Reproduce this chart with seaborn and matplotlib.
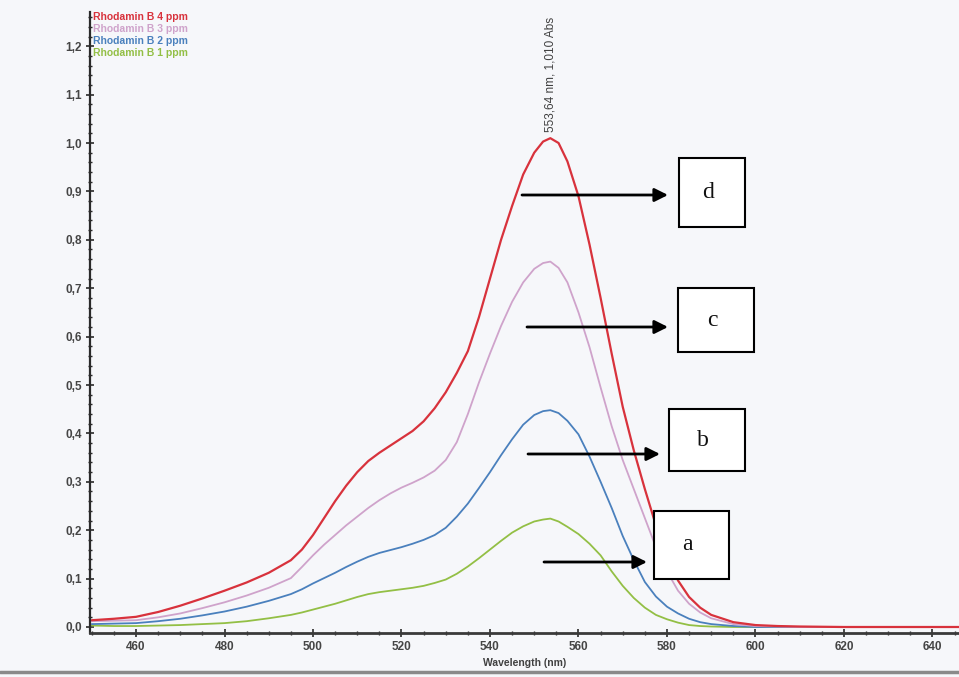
import numpy as np
import pandas as pd
import matplotlib
matplotlib.use("Agg")
import matplotlib.pyplot as plt
from matplotlib.patches import Rectangle
from matplotlib.ticker import MultipleLocator
import seaborn as sns

# ---------------- data ----------------
wavelength = [450, 455, 460, 465, 470, 475, 480, 485, 490, 495,
              497.5, 500, 502.5, 505, 507.5, 510, 512.5, 515, 517.5, 520,
              522.5, 525, 527.5, 530, 532.5, 535, 537.5, 540, 542.5, 545,
              547.5, 550, 552, 553.64, 555.5, 557.5, 560, 562.5, 565, 567.5,
              570, 572.5, 575, 577.5, 580, 582.5, 585, 587.5, 590, 595,
              600, 605, 610, 620, 630, 640, 646]

abs_4ppm = [0.014, 0.017, 0.021, 0.031, 0.044, 0.059, 0.075, 0.092, 0.112, 0.138,
            0.160, 0.190, 0.225, 0.260, 0.292, 0.320, 0.343, 0.360, 0.375, 0.390,
            0.405, 0.425, 0.452, 0.485, 0.525, 0.570, 0.640, 0.720, 0.800, 0.870,
            0.935, 0.980, 1.003, 1.010, 1.000, 0.962, 0.890, 0.790, 0.680, 0.565,
            0.455, 0.365, 0.285, 0.210, 0.145, 0.096, 0.062, 0.040, 0.025, 0.010,
            0.004, 0.002, 0.001, 0.000, 0.000, 0.000, 0.000]

abs_3ppm = [0.012, 0.013, 0.014, 0.020, 0.028, 0.039, 0.051, 0.065, 0.081, 0.101,
            0.124, 0.148, 0.170, 0.190, 0.210, 0.228, 0.246, 0.262, 0.276, 0.288,
            0.298, 0.309, 0.323, 0.345, 0.382, 0.440, 0.505, 0.565, 0.622, 0.672,
            0.712, 0.740, 0.752, 0.755, 0.742, 0.712, 0.650, 0.578, 0.495, 0.415,
            0.345, 0.285, 0.225, 0.165, 0.115, 0.075, 0.048, 0.030, 0.018, 0.006,
            0.002, 0.001, 0.000, 0.000, 0.000, 0.000, 0.000]

abs_2ppm = [0.006, 0.007, 0.008, 0.012, 0.017, 0.024, 0.032, 0.042, 0.054, 0.068,
            0.078, 0.090, 0.101, 0.112, 0.124, 0.135, 0.145, 0.153, 0.159, 0.165,
            0.172, 0.180, 0.190, 0.205, 0.228, 0.255, 0.287, 0.320, 0.355, 0.388,
            0.418, 0.438, 0.446, 0.448, 0.442, 0.426, 0.398, 0.352, 0.300, 0.246,
            0.188, 0.138, 0.093, 0.063, 0.042, 0.028, 0.017, 0.010, 0.006, 0.002,
            0.000, 0.000, 0.000, 0.000, 0.000, 0.000, 0.000]

abs_1ppm = [0.003, 0.002, 0.002, 0.003, 0.004, 0.006, 0.008, 0.012, 0.018, 0.025,
            0.030, 0.036, 0.042, 0.048, 0.055, 0.062, 0.068, 0.072, 0.075, 0.078,
            0.081, 0.085, 0.091, 0.098, 0.110, 0.125, 0.142, 0.160, 0.178, 0.195,
            0.208, 0.218, 0.222, 0.224, 0.218, 0.207, 0.192, 0.172, 0.148, 0.115,
            0.085, 0.060, 0.040, 0.025, 0.016, 0.009, 0.004, 0.002, 0.001, 0.000,
            0.000, 0.000, 0.000, 0.000, 0.000, 0.000, 0.000]

series_names = ["Rhodamin B 4 ppm", "Rhodamin B 3 ppm", "Rhodamin B 2 ppm", "Rhodamin B 1 ppm"]
series_colors = ["#d8323c", "#cfa3cb", "#4a80bd", "#93bf45"]

x_ticks = [460, 480, 500, 520, 540, 560, 580, 600, 620, 640]
x_ticklabels = ["460", "480", "500", "520", "540", "560", "580", "600", "620", "640"]
y_ticks = [0.0, 0.1, 0.2, 0.3, 0.4, 0.5, 0.6, 0.7, 0.8, 0.9, 1.0, 1.1, 1.2]
y_ticklabels = ["0,0", "0,1", "0,2", "0,3", "0,4", "0,5", "0,6", "0,7", "0,8", "0,9", "1,0", "1,1", "1,2"]

peak_label = "553,64 nm, 1,010 Abs"
box_letters = ["d", "c", "b", "a"]

# ---------------- figure ----------------
sns.set_theme(style="ticks")
plt.rcParams["font.family"] = ["Liberation Sans", "DejaVu Sans"]

W, H = 959, 677
BG = "#f6f7fa"
fig = plt.figure(figsize=(W / 100, H / 100), dpi=100, facecolor=BG)

def fx(px):
    return px / W

def fy(py):
    return 1 - py / H

ax = fig.add_axes([fx(90), fy(633), fx(959) - fx(90), fy(12) - fy(633)])
ax.set_facecolor(BG)

frames = []
for name, vals in zip(series_names, [abs_4ppm, abs_3ppm, abs_2ppm, abs_1ppm]):
    frames.append(pd.DataFrame({"Wavelength": wavelength, "Abs": vals, "Series": name}))
df = pd.concat(frames, ignore_index=True)

widths = {series_names[0]: 1.6, series_names[1]: 1.3, series_names[2]: 1.3, series_names[3]: 1.3}
for name, col in list(zip(series_names, series_colors))[::-1]:
    sub = df[df["Series"] == name]
    sns.lineplot(data=sub, x="Wavelength", y="Abs", color=col, lw=widths[name],
                 ax=ax, legend=False, sort=False, solid_joinstyle="round")

ax.set_xlim(449.6, 646.0)
ax.set_ylim(-0.0124, 1.2707)

ax.set_xticks(x_ticks)
ax.set_xticklabels(x_ticklabels)
ax.set_yticks(y_ticks)
ax.set_yticklabels(y_ticklabels)
ax.xaxis.set_minor_locator(MultipleLocator(5))
ax.yaxis.set_minor_locator(MultipleLocator(0.02))

for s in ["top", "right"]:
    ax.spines[s].set_visible(False)
ax.spines["left"].set_color("#2a2a2a")
ax.spines["left"].set_linewidth(1.6)
ax.spines["bottom"].set_color("#3a3a3a")
ax.spines["bottom"].set_linewidth(2.0)

ax.tick_params(axis="both", which="major", direction="inout", length=6, width=1.2,
               colors="#2a2a2a", labelsize=8.5, labelcolor="#454545", pad=3)
ax.tick_params(axis="both", which="minor", direction="inout", length=3, width=1.0,
               colors="#2a2a2a")
for lab in ax.get_xticklabels() + ax.get_yticklabels():
    lab.set_fontweight("bold")

ax.set_xlabel("Wavelength (nm)", fontsize=7.5, fontweight="bold", color="#404040", labelpad=3)
ax.set_ylabel("")

# legend text (top left, coloured)
for i, (name, col) in enumerate(zip(series_names, series_colors)):
    fig.text(fx(93), fy(17 + 12 * i), name, color=col, fontsize=7.5, fontweight="bold",
             ha="left", va="center")

# peak annotation
ax.text(553.64, 1.022, peak_label, rotation=90, ha="center", va="bottom",
        fontsize=8.5, color="#404040")

# boxes with letters and arrows (pixel positions of the scanned annotations)
boxes = [(679, 158, 745, 227), (678, 288, 754, 352), (669, 409, 745, 471), (654, 511, 729, 579)]
arrows = [(522, 668, 195), (527, 668, 327), (528, 660, 454), (544, 647, 562)]
for (x0, y0, x1, y1), letter in zip(boxes, box_letters):
    rect = Rectangle((fx(x0), fy(y1)), fx(x1) - fx(x0), fy(y0) - fy(y1),
                     transform=fig.transFigure, facecolor="white", edgecolor="black",
                     lw=1.5, zorder=5)
    fig.add_artist(rect)
    fig.text((fx(x0) + fx(x1)) / 2 - 0.004, (fy(y0) + fy(y1)) / 2, letter,
             family=["Liberation Serif", "DejaVu Serif"], fontsize=17,
             ha="center", va="center", color="#111111", zorder=6)

for xs, xe, yy in arrows:
    ax.annotate("", xy=(fx(xe), fy(yy)), xytext=(fx(xs), fy(yy)),
                xycoords="figure fraction", textcoords="figure fraction",
                arrowprops=dict(arrowstyle="-|>", color="black", lw=2.0,
                                mutation_scale=20, shrinkA=0, shrinkB=0),
                zorder=6)

# scan border line at the bottom
fig.add_artist(plt.Line2D([0, 1], [fy(672), fy(672)], transform=fig.transFigure,
                          color="#8a8a8a", lw=2.5))

fig.savefig("out.png", dpi=100, facecolor=BG)
